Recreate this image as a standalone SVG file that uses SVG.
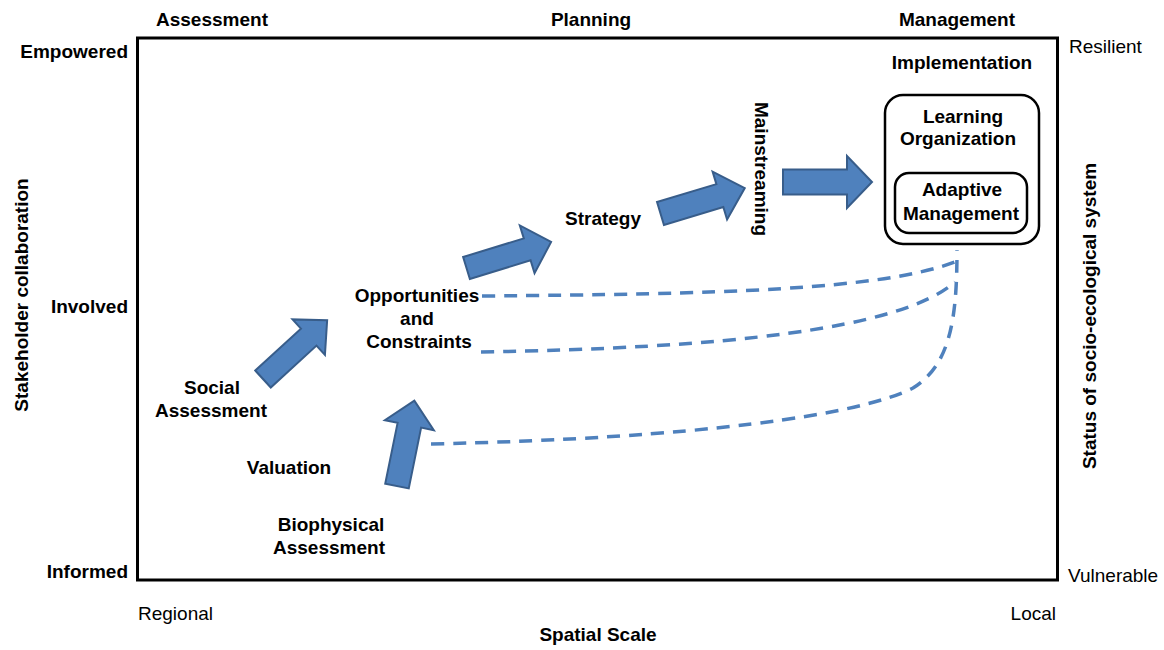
<svg xmlns="http://www.w3.org/2000/svg" width="1164" height="650" viewBox="0 0 1164 650">
<style>
text{font-family:"Liberation Sans",Arial,sans-serif;font-size:19px;fill:#000}
.b{font-weight:bold}
.m{text-anchor:middle}
.e{text-anchor:end}
.arr{fill:#4F81BD;stroke:#385D8A;stroke-width:2;stroke-linejoin:miter}
.dash{fill:none;stroke:#4F81BD;stroke-width:3.5;stroke-dasharray:13 9}
.box{fill:#fff;stroke:#000;stroke-width:2.5}
</style>
<rect width="1164" height="650" fill="#fff"/>
<g id="frame">
<rect x="137.5" y="38" width="920" height="542" fill="none" stroke="#000" stroke-width="3"/>
</g>
<g id="axis-labels">
<text class="b m" x="212" y="26">Assessment</text>
<text class="b m" x="591" y="26">Planning</text>
<text class="b m" x="957" y="26">Management</text>
<text class="b e" x="128" y="58">Empowered</text>
<text class="b e" x="128" y="313">Involved</text>
<text class="b e" x="128" y="578">Informed</text>
<text x="138" y="620">Regional</text>
<text class="e" x="1056" y="620">Local</text>
<text class="b m" x="598" y="641">Spatial Scale</text>
<text x="1069" y="53">Resilient</text>
<text x="1068" y="582">Vulnerable</text>
<text class="b m" transform="translate(28,295) rotate(-90)">Stakeholder collaboration</text>
<text class="b m" transform="translate(1096,316) rotate(-90)">Status of socio-ecological system</text>
</g>
<g id="connectors">
<path class="dash" d="M482,296 C720,294 880,290 955,262"/>
<path class="dash" d="M481,352 C720,348 900,330 955,282"/>
<path class="dash" d="M431,444 C700,438 860,415 913,388 C950,365 957,320 957,250"/>
<path class="arr" transform="translate(263,379) rotate(-42.5)" d="M0,-11.5 L62,-11.5 L62,-24 L87,0 L62,24 L62,11.5 L0,11.5 Z"/>
<path class="arr" transform="translate(397,486) rotate(-78.5)" d="M0,-12 L62,-12 L62,-25 L87,0 L62,25 L62,12 L0,12 Z"/>
<path class="arr" transform="translate(466.5,268) rotate(-17.1)" d="M0,-11.5 L63.5,-11.5 L63.5,-25 L88.5,0 L63.5,25 L63.5,11.5 L0,11.5 Z"/>
<path class="arr" transform="translate(660.5,213.5) rotate(-16.8)" d="M0,-12 L62,-12 L62,-25 L88,0 L62,25 L62,12 L0,12 Z"/>
<path class="arr" transform="translate(783,182)" d="M0,-12.5 L64,-12.5 L64,-26 L89,0 L64,26 L64,12.5 L0,12.5 Z"/>
</g>
<g id="social-assessment">
<text class="b m" x="212" y="394">Social</text>
<text class="b m" x="211" y="417">Assessment</text>
</g>
<g id="valuation">
<text class="b m" x="289" y="474">Valuation</text>
</g>
<g id="biophysical-assessment">
<text class="b m" x="331" y="531">Biophysical</text>
<text class="b m" x="329" y="554">Assessment</text>
</g>
<g id="opportunities-constraints">
<text class="b m" x="417" y="302">Opportunities</text>
<text class="b m" x="417" y="325">and</text>
<text class="b m" x="419" y="348">Constraints</text>
</g>
<g id="strategy">
<text class="b m" x="603" y="225">Strategy</text>
</g>
<g id="mainstreaming">
<text class="b m" transform="translate(755,169) rotate(90)">Mainstreaming</text>
</g>
<g id="implementation">
<text class="b m" x="962" y="69">Implementation</text>
</g>
<g id="learning-organization">
<rect class="box" x="885" y="95" width="154" height="149" rx="18"/>
<text class="b m" x="963" y="123">Learning</text>
<text class="b m" x="958" y="145">Organization</text>
</g>
<g id="adaptive-management">
<rect class="box" x="895" y="173" width="132" height="60" rx="14"/>
<text class="b m" x="962" y="196">Adaptive</text>
<text class="b m" x="961" y="220">Management</text>
</g>
</svg>
